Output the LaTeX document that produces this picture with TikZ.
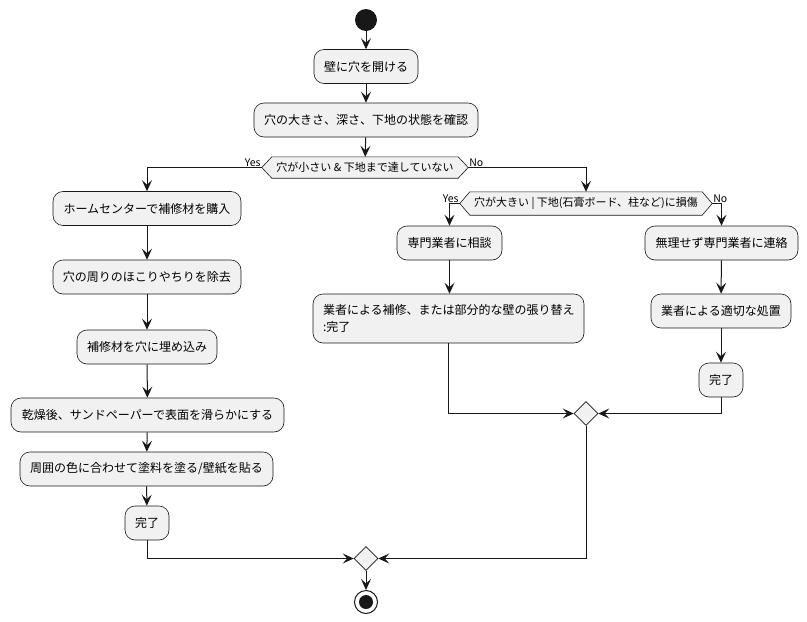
\documentclass[tikz,border=0pt]{standalone}
\usepackage{fontspec}
\setmainfont{Noto Sans CJK JP}
\usetikzlibrary{arrows.meta,shapes.geometric,calc,backgrounds}
\definecolor{boxfill}{HTML}{F1F1F1}
\definecolor{ln}{HTML}{181818}
\begin{document}
\begin{tikzpicture}[x=1pt,y=-1pt,
 act/.style={draw=ln, fill=boxfill, rounded corners=10pt, minimum height=34pt, inner xsep=10pt, inner ysep=4pt, font=\fontsize{12}{17}\selectfont, line width=0.6pt},
 dtxt/.style={inner sep=0pt, font=\fontsize{11}{13}\selectfont},
 dshape/.style={draw=ln, fill=boxfill, line width=0.6pt},
 merge/.style={diamond, draw=ln, fill=boxfill, minimum width=24pt, minimum height=24pt, inner sep=0pt, line width=0.6pt},
 flow/.style={draw=ln, line width=1pt, -{Stealth[length=11pt,width=10pt,inset=4.5pt]}},
 lbl/.style={font=\fontsize{10.5}{12}\selectfont, inner sep=1pt},
]
\useasboundingbox (0,0) rectangle (807,622);

% start
\node[circle, fill=ln, minimum size=22pt, inner sep=0pt] (st) at (366,20) {};

% main column
\node[act, minimum width=104pt] (b1) at (366,66.5) {壁に穴を開ける};
\node[act, minimum width=224pt] (b2) at (366,120) {穴の大きさ、深さ、下地の状態を確認};

% decision 1
\node[dtxt, minimum width=186pt, minimum height=21pt] (d1) at (365,167.5) {穴が小さい \& 下地まで達していない};
\coordinate (d1l) at ([xshift=-10pt]d1.west);
\coordinate (d1r) at ([xshift=10pt]d1.east);
\begin{scope}[on background layer]
\draw[dshape] (d1.north west) -- (d1.north east) -- (d1r) -- (d1.south east) -- (d1.south west) -- (d1l) -- cycle;
\end{scope}
\node[lbl, anchor=south east] at (d1l) {Yes};
\node[lbl, anchor=south west] at (d1r) {No};

% left branch
\node[act, minimum width=188pt] (b3) at (147,208.5) {ホームセンターで補修材を購入};
\node[act, minimum width=188pt] (b4) at (147,277) {穴の周りのほこりやちりを除去};
\node[act, minimum width=140pt] (b5) at (147,347) {補修材を穴に埋め込み};
\node[act, minimum width=273pt] (b6) at (147.5,415) {乾燥後、サンドペーパーで表面を滑らかにする};
\node[act, minimum width=253pt] (b7) at (146.5,469) {周囲の色に合わせて塗料を塗る/壁紙を貼る};
\node[act, minimum width=44pt] (b8) at (147,523) {完了};

% decision 2
\node[dtxt, minimum width=232pt, minimum height=23pt] (d2) at (586,203.5) {穴が大きい | 下地(石膏ボード、柱など)に損傷};
\coordinate (d2l) at ([xshift=-10pt]d2.west);
\coordinate (d2r) at ([xshift=10pt]d2.east);
\begin{scope}[on background layer]
\draw[dshape] (d2.north west) -- (d2.north east) -- (d2r) -- (d2.south east) -- (d2.south west) -- (d2l) -- cycle;
\end{scope}
\node[lbl, anchor=south east] at (d2l) {Yes};
\node[lbl, anchor=south west] at (d2r) {No};

% middle branch
\node[act, minimum width=105pt] (c1) at (449.5,243) {専門業者に相談};
\node[act, minimum width=271pt, minimum height=49pt, align=left, text width=251pt, inner xsep=10pt] (c2) at (448.5,318.5) {業者による補修、または部分的な壁の張り替え\\:完了};

% right branch
\node[act, minimum width=153pt] (e1) at (721.5,243) {無理せず専門業者に連絡};
\node[act, minimum width=140pt] (e2) at (721,311) {業者による適切な処置};
\node[act, minimum width=44pt] (e3) at (721,380) {完了};

% merges and end
\node[merge] (m2) at (586,413.5) {};
\node[merge] (m1) at (366,558.5) {};
\node[circle, draw=ln, line width=1pt, minimum size=23pt, inner sep=0pt] (en) at (366,602) {};
\fill[ln] (en.center) circle (7pt);

% connectors
\draw[flow] (st) -- (b1);
\draw[flow] (b1) -- (b2);
\draw[flow] (b2) -- (d1);
\draw[flow] (d1l) -| (b3);
\draw[flow] (d1r) -| (d2);
\draw[flow] (b3) -- (b4);
\draw[flow] (b4) -- (b5);
\draw[flow] (b5) -- (b6);
\draw[flow] (b6) -- (b7);
\draw[flow] (b7) -- (b8);
\draw[flow] (b8) |- (m1);
\draw[flow] (d2l) -| (c1);
\draw[flow] (c1) -- (c1 |- c2.north);
\draw[flow] (c2) |- (m2);
\draw[flow] (d2r) -| (e1);
\draw[flow] (e1) -- (e2);
\draw[flow] (e2) -- (e3);
\draw[flow] (e3) |- (m2);
\draw[flow] (m2) |- (m1);
\draw[flow] (m1) -- (en);
\end{tikzpicture}
\end{document}
